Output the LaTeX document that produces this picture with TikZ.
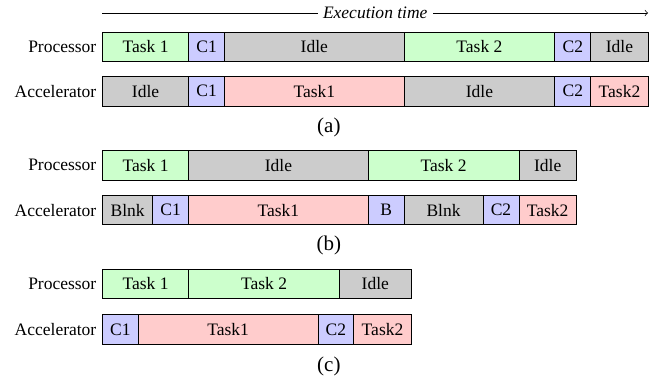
\documentclass[tikz,border=0pt]{standalone}
\usepackage{fontspec}
\setmainfont{Liberation Serif}
\usetikzlibrary{positioning}

\definecolor{procgreen}{RGB}{204,255,204}
\definecolor{commblue}{RGB}{204,204,255}
\definecolor{idlegray}{RGB}{204,204,204}
\definecolor{accpink}{RGB}{255,204,204}

\tikzset{
  slot/.style={draw, outer sep=0pt, inner sep=0pt, minimum height=16.7pt, minimum width=#1*20.51pt},
  ptask/.style={slot=#1, fill=procgreen},
  comm/.style={slot=#1, fill=commblue},
  idle/.style={slot=#1, fill=idlegray},
  atask/.style={slot=#1, fill=accpink},
  rowname/.style={anchor=east},
  sublabel/.style={font=\large}
}

\begin{document}
\begin{tikzpicture}[x=20.51pt, y=20.51pt]
\useasboundingbox (0,0) rectangle (18.44,-10.669);

% Time axis
\coordinate (tstart) at (2.855,-0.362);
\coordinate (tend) at (18.05,-0.362);
\draw[->] (tstart) -- node[fill=white, inner sep=3pt] (tlabel) {\textit{Execution time}} (tend);

% (a) Processor row
\node[ptask=2.4, anchor=west] (pa1) at (2.855,-1.295) {Task 1};
\node[comm=1, right=0pt of pa1] (pa2) {C1};
\node[idle=5, right=0pt of pa2] (pa3) {Idle};
\node[ptask=4.2, right=0pt of pa3] (pa4) {Task 2};
\node[comm=1, right=0pt of pa4] (pa5) {C2};
\node[idle=1.6, right=0pt of pa5] (pa6) {Idle};
\node[left=0pt of pa1] (pan) {Processor};

% (a) Accelerator row
\node[idle=2.4, anchor=west] (aa1) at (2.855,-2.543) {Idle};
\node[comm=1, right=0pt of aa1] (aa2) {C1};
\node[atask=5, right=0pt of aa2] (aa3) {Task1};
\node[idle=4.2, right=0pt of aa3] (aa4) {Idle};
\node[comm=1, right=0pt of aa4] (aa5) {C2};
\node[atask=1.6, right=0pt of aa5] (aa6) {Task2};
\node[left=0pt of aa1] (aan) {Accelerator};

\node[sublabel] (capa) at (9.16,-3.538) {(a)};

% (b) Processor row
\node[ptask=2.4, anchor=west] (pb1) at (2.855,-4.604) {Task 1};
\node[idle=5, right=0pt of pb1] (pb2) {Idle};
\node[ptask=4.2, right=0pt of pb2] (pb3) {Task 2};
\node[idle=1.6, right=0pt of pb3] (pb4) {Idle};
\node[left=0pt of pb1] (pbn) {Processor};

% (b) Accelerator row
\node[idle=1.4, anchor=west] (ab1) at (2.855,-5.855) {Blnk};
\node[comm=1, right=0pt of ab1] (ab2) {C1};
\node[atask=5, right=0pt of ab2] (ab3) {Task1};
\node[comm=1, right=0pt of ab3] (ab4) {B};
\node[idle=2.2, right=0pt of ab4] (ab5) {Blnk};
\node[comm=1, right=0pt of ab5] (ab6) {C2};
\node[atask=1.6, right=0pt of ab6] (ab7) {Task2};
\node[left=0pt of ab1] (abn) {Accelerator};

\node[sublabel] (capb) at (9.16,-6.85) {(b)};

% (c) Processor row
\node[ptask=2.4, anchor=west] (pc1) at (2.855,-7.911) {Task 1};
\node[ptask=4.2, right=0pt of pc1] (pc2) {Task 2};
\node[idle=2, right=0pt of pc2] (pc3) {Idle};
\node[left=0pt of pc1] (pcn) {Processor};

% (c) Accelerator row
\node[comm=1, anchor=west] (ac1) at (2.855,-9.173) {C1};
\node[atask=5, right=0pt of ac1] (ac2) {Task1};
\node[comm=1, right=0pt of ac2] (ac3) {C2};
\node[atask=1.6, right=0pt of ac3] (ac4) {Task2};
\node[left=0pt of ac1] (acn) {Accelerator};

\node[sublabel] (capc) at (9.16,-10.214) {(c)};
\end{tikzpicture}
\end{document}
